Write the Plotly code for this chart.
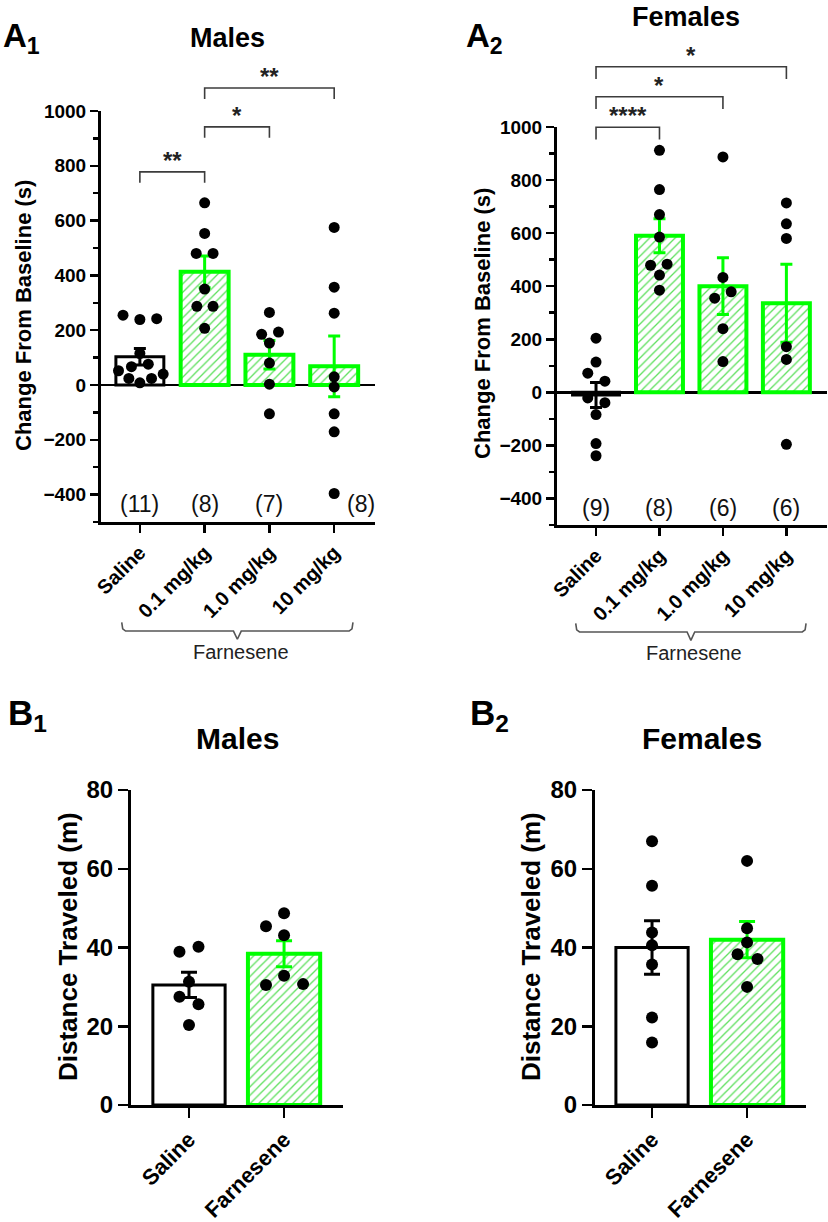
import plotly.graph_objects as go

W, H = 828, 1222
GREEN = "#00ff00"
HATCH = "#5fe05f"
FONT = "Liberation Sans, Arial, sans-serif"

# ---------------- Panel A data (change from baseline, s) ----------------
a_categories = ["Saline", "0.1 mg/kg", "1.0 mg/kg", "10 mg/kg"]

a1_means = [103, 413, 110, 68]
a1_sems = [30, 58, 52, 111]
a1_n = ["(11)", "(8)", "(7)", "(8)"]
a1_points = [
    [255, 239, 242, 115, 76, 67, 52, 40, 24, 24, 8],
    [665, 553, 480, 480, 350, 287, 287, 207],
    [265, 185, 193, 153, 80, 3, -105],
    [575, 357, 262, 30, -7, -105, -171, -396],
]
a1_jitter = [
    [-0.26, 0.0, 0.26, 0.0, 0.13, -0.13, -0.33, 0.36, -0.17, 0.18, 0.0],
    [0.0, 0.0, -0.13, 0.13, 0.0, -0.12, 0.13, 0.0],
    [0.0, -0.12, 0.14, 0.0, 0.0, 0.0, 0.0],
    [0.0, 0.0, 0.0, 0.0, 0.0, 0.0, 0.0, 0.0],
]
a1_sig_pairs = [(0, 1), (1, 2), (1, 3)]
a1_sig_levels = [778, 942, 1084]
a1_sig_labels = ["**", "*", "**"]
a1_n_shift = [0, 0, 0, 0.42]

a2_means = [-10, 590, 400, 336]
a2_sems = [47, 64, 107, 147]
a2_n = ["(9)", "(8)", "(6)", "(6)"]
a2_points = [
    [204, 114, 72, 42, -21, -39, -84, -193, -239],
    [912, 764, 670, 585, 479, 483, 442, 385],
    [887, 433, 355, 379, 240, 116],
    [714, 635, 580, 172, 124, -196],
]
a2_jitter = [
    [0.0, 0.0, -0.13, 0.14, -0.13, 0.14, 0.0, 0.0, 0.0],
    [0.0, 0.0, 0.0, 0.0, -0.14, 0.12, 0.0, 0.0],
    [0.0, 0.0, -0.13, 0.13, 0.0, 0.0],
    [0.0, 0.0, 0.0, 0.0, 0.0, 0.0],
]
a2_sig_pairs = [(0, 1), (0, 2), (0, 3)]
a2_sig_levels = [999, 1114, 1227]
a2_sig_labels = ["****", "*", "*"]
a2_n_shift = [0, 0, 0, 0]

a_yticks = [-400, -200, 0, 200, 400, 600, 800, 1000]

# ---------------- Panel B data (distance traveled, m) ----------------
b_categories = ["Saline", "Farnesene"]

b1_means = [30.5, 38.4]
b1_sems = [3.2, 3.3]
b1_points = [
    [38.9, 40.2, 31.3, 27.5, 25.6, 20.3],
    [48.7, 45.4, 43.1, 32.8, 30.5, 30.7],
]
b1_jitter = [
    [-0.1, 0.1, 0.0, -0.1, 0.1, 0.0],
    [0.0, -0.19, 0.0, 0.0, -0.19, 0.2],
]

b2_means = [40.0, 42.0]
b2_sems = [6.8, 4.6]
b2_points = [
    [67.0, 55.7, 43.8, 40.6, 35.7, 22.2, 15.9],
    [62.0, 44.9, 41.3, 38.3, 37.1, 30.0],
]
b2_jitter = [
    [0.0, 0.0, 0.0, 0.0, 0.0, 0.0, 0.0],
    [0.0, 0.0, 0.0, -0.1, 0.11, 0.0],
]
b_yticks = [0, 20, 40, 60, 80]


def px_x(p):
    return p / W


def px_y(p):
    return 1 - p / H


fig = go.Figure()


def add_panel(xa, ya, means, sems, points, jitter, bar_w, msize, cap, green_lw, black_lw):
    idx = list(range(len(means)))
    fig.add_trace(go.Bar(
        x=[idx[0]], y=[means[0]], width=bar_w, xaxis=xa, yaxis=ya,
        marker=dict(color="white", line=dict(color="black", width=black_lw)),
        error_y=dict(type="data", array=[sems[0]], color="black", thickness=3, width=cap),
        showlegend=False, hoverinfo="skip"))
    fig.add_trace(go.Bar(
        x=idx[1:], y=means[1:], width=bar_w, xaxis=xa, yaxis=ya,
        marker=dict(color="white", line=dict(color=GREEN, width=green_lw),
                    pattern=dict(shape="/", fgcolor=HATCH, bgcolor="white",
                                 size=6, solidity=0.22)),
        error_y=dict(type="data", array=sems[1:], color=GREEN, thickness=3, width=cap),
        showlegend=False, hoverinfo="skip"))
    xs, ys = [], []
    for i, (vals, jit) in enumerate(zip(points, jitter)):
        xs += [i + j for j in jit]
        ys += vals
    fig.add_trace(go.Scatter(
        x=xs, y=ys, xaxis=xa, yaxis=ya, mode="markers",
        marker=dict(color="black", size=msize, line=dict(width=0)),
        cliponaxis=False, showlegend=False, hoverinfo="skip"))


add_panel("x", "y", a1_means, a1_sems, a1_points, a1_jitter, 0.74, 11, 6, 4, 3)
add_panel("x2", "y2", a2_means, a2_sems, a2_points, a2_jitter, 0.74, 11, 6, 4, 3)
add_panel("x3", "y3", b1_means, b1_sems, b1_points, b1_jitter, 0.76, 12, 8, 4, 3)
add_panel("x4", "y4", b2_means, b2_sems, b2_points, b2_jitter, 0.76, 12, 8, 4, 3)

# ---------------- axes geometry ----------------
A1_X = [px_x(101), px_x(375)]
A1_Y = [px_y(522), px_y(111)]
A2_X = [px_x(557), px_x(827)]
A2_Y = [px_y(525), px_y(127)]
B1_X = [px_x(131), px_x(343)]
B1_Y = [px_y(1105), px_y(790)]
B2_X = [px_x(595), px_x(806)]
B2_Y = B1_Y

A_RANGE = [-500, 1000]
A1_XR = [-0.6, 3.63]
A2_XR = [-0.615, 3.64]
B1_XR = [-0.61, 1.62]
B2_XR = [-0.6, 1.62]


def aux_range(dom, rng, aux_dom):
    k = (rng[1] - rng[0]) / (dom[1] - dom[0])
    return [rng[0] - (dom[0] - aux_dom[0]) * k, rng[1] + (aux_dom[1] - dom[1]) * k]


AUX_DOM = [px_y(690), 1.0]

tickfont_a = dict(family=FONT, size=19, color="black", weight="bold")
xtickfont_a = dict(family=FONT, size=20, color="black", weight="bold")
tickfont_b = dict(family=FONT, size=24, color="black", weight="bold")
xtickfont_b = dict(family=FONT, size=22, color="black", weight="bold")


def xaxis_cfg(dom, rng, anchor, cats, font, tlen):
    return dict(domain=dom, range=rng, anchor=anchor, showline=True, linecolor="black",
                linewidth=3, ticks="outside", ticklen=tlen, tickwidth=2.5, tickcolor="black",
                tickvals=list(range(len(cats))), ticktext=cats, tickangle=-45,
                tickfont=font, showgrid=False, zeroline=False, fixedrange=True,
                automargin=False)


def yaxis_cfg(dom, rng, anchor, vals, font, tlen, minor=None, zeroline=False):
    cfg = dict(domain=dom, range=rng, anchor=anchor, showline=True, linecolor="black",
               linewidth=3, ticks="outside", ticklen=tlen, tickwidth=2.5, tickcolor="black",
               tickvals=vals, tickfont=font, showgrid=False, automargin=False,
               zeroline=zeroline, zerolinecolor="black", zerolinewidth=2.5, fixedrange=True)
    if minor:
        cfg["minor"] = dict(dtick=minor, tick0=0, ticks="outside", ticklen=5, tickwidth=2.5,
                            tickcolor="black", showgrid=False)
    return cfg


def aux_axis(dom, rng, anchor):
    return dict(domain=dom, range=rng, anchor=anchor, visible=False, fixedrange=True,
                automargin=False, showgrid=False, zeroline=False)


layout = dict(
    template="none",
    width=W, height=H, margin=dict(l=0, r=0, t=0, b=0, pad=0, autoexpand=False),
    paper_bgcolor="white", plot_bgcolor="rgba(0,0,0,0)",
    barmode="overlay", showlegend=False,
    font=dict(family=FONT, color="black"),
    xaxis=xaxis_cfg(A1_X, A1_XR, "y", a_categories, xtickfont_a, 8),
    yaxis=yaxis_cfg(A1_Y, A_RANGE, "x", a_yticks, tickfont_a, 8, minor=100, zeroline=True),
    xaxis2=xaxis_cfg(A2_X, A2_XR, "y2", a_categories, xtickfont_a, 8),
    yaxis2=yaxis_cfg(A2_Y, A_RANGE, "x2", a_yticks, tickfont_a, 8, minor=100, zeroline=True),
    xaxis3=xaxis_cfg(B1_X, B1_XR, "y3", b_categories, xtickfont_b, 10),
    yaxis3=yaxis_cfg(B1_Y, [0, 80], "x3", b_yticks, tickfont_b, 10),
    xaxis4=xaxis_cfg(B2_X, B2_XR, "y4", b_categories, xtickfont_b, 10),
    yaxis4=yaxis_cfg(B2_Y, [0, 80], "x4", b_yticks, tickfont_b, 10),
    xaxis5=aux_axis(A1_X, A1_XR, "y5"),
    yaxis5=aux_axis(AUX_DOM, aux_range(A1_Y, A_RANGE, AUX_DOM), "x5"),
    xaxis6=aux_axis(A2_X, A2_XR, "y6"),
    yaxis6=aux_axis(AUX_DOM, aux_range(A2_Y, A_RANGE, AUX_DOM), "x6"),
)
fig.update_layout(**layout)

annotations = []
BRACKET_COLOR = "#3c3c3c"


def add_sig(xa, ya, pairs, levels, labels, leg):
    for (i, j), lvl, lab in zip(pairs, levels, labels):
        fig.add_trace(go.Scatter(
            x=[i, i, j, j], y=[lvl - leg, lvl, lvl, lvl - leg], xaxis=xa, yaxis=ya,
            mode="lines", line=dict(color=BRACKET_COLOR, width=1.6),
            showlegend=False, hoverinfo="skip"))
        annotations.append(dict(
            x=(i + j) / 2, y=lvl, xref=xa, yref=ya, text="<b>%s</b>" % lab, showarrow=False,
            xanchor="center", yanchor="bottom", yshift=-4,
            font=dict(family=FONT, size=24, color="#222")))


add_sig("x5", "y5", a1_sig_pairs, a1_sig_levels, a1_sig_labels, 40)
add_sig("x6", "y6", a2_sig_pairs, a2_sig_levels, a2_sig_labels, 46)


def add_brace(xa, ya, xl, xr, yb, hook, tick, label_dy):
    xm = (xl + xr) / 2
    fig.add_trace(go.Scatter(
        x=[xl, xl + 0.015, xl + 0.06, xm - 0.06, xm, xm + 0.06, xr - 0.06, xr - 0.015, xr],
        y=[yb + hook, yb + hook * 0.25, yb, yb, yb - tick, yb, yb, yb + hook * 0.25, yb + hook],
        xaxis=xa, yaxis=ya, mode="lines", line=dict(color="#555555", width=1.6),
        showlegend=False, hoverinfo="skip"))
    annotations.append(dict(
        x=xm + 0.05, y=yb + label_dy, xref=xa, yref=ya, text="Farnesene", showarrow=False,
        xanchor="center", yanchor="middle", font=dict(family=FONT, size=20, color="#222")))


add_brace("x5", "y5", -0.28, 3.29, -898, 32, 30, -77)
add_brace("x6", "y6", -0.32, 3.31, -903, 32, 32, -80)

# n labels
for xa, ya, labels, shift in [("x", "y", a1_n, a1_n_shift), ("x2", "y2", a2_n, a2_n_shift)]:
    for i, (lab, s) in enumerate(zip(labels, shift)):
        annotations.append(dict(
            x=i + s, y=-436, xref=xa, yref=ya, text=lab, showarrow=False,
            xanchor="center", yanchor="middle",
            font=dict(family=FONT, size=23, color="#111")))


def paper_text(x, y, text, size, xanchor="center", angle=0, bold=True, yanchor="middle"):
    annotations.append(dict(
        x=px_x(x), y=px_y(y), xref="paper", yref="paper",
        text=("<b>%s</b>" % text) if bold else text, showarrow=False,
        xanchor=xanchor, yanchor=yanchor, textangle=angle,
        font=dict(family=FONT, size=size, color="black")))


# panel labels & titles
paper_text(1, 38, "A<sub>1</sub>", 33, xanchor="left")
paper_text(227, 38, "Males", 27)
paper_text(464, 38, "A<sub>2</sub>", 33, xanchor="left")
paper_text(686, 0, "Females", 27, yanchor="top")
paper_text(6, 715, "B<sub>1</sub>", 35, xanchor="left")
paper_text(237, 738, "Males", 30)
paper_text(468, 715, "B<sub>2</sub>", 35, xanchor="left")
paper_text(702, 738, "Females", 30)

# axis titles
paper_text(23, 316, "Change From Baseline (s)", 22, angle=-90)
paper_text(483, 324, "Change From Baseline (s)", 22, angle=-90)
paper_text(68, 947, "Distance Traveled (m)", 26, angle=-90)
paper_text(531, 947, "Distance Traveled (m)", 26, angle=-90)

fig.update_layout(annotations=annotations)
fig.write_html(
    "out.html",
    config={"displayModeBar": False, "staticPlot": True},
    post_script="document.body.style.margin='0';document.body.style.overflow='hidden';",
)
